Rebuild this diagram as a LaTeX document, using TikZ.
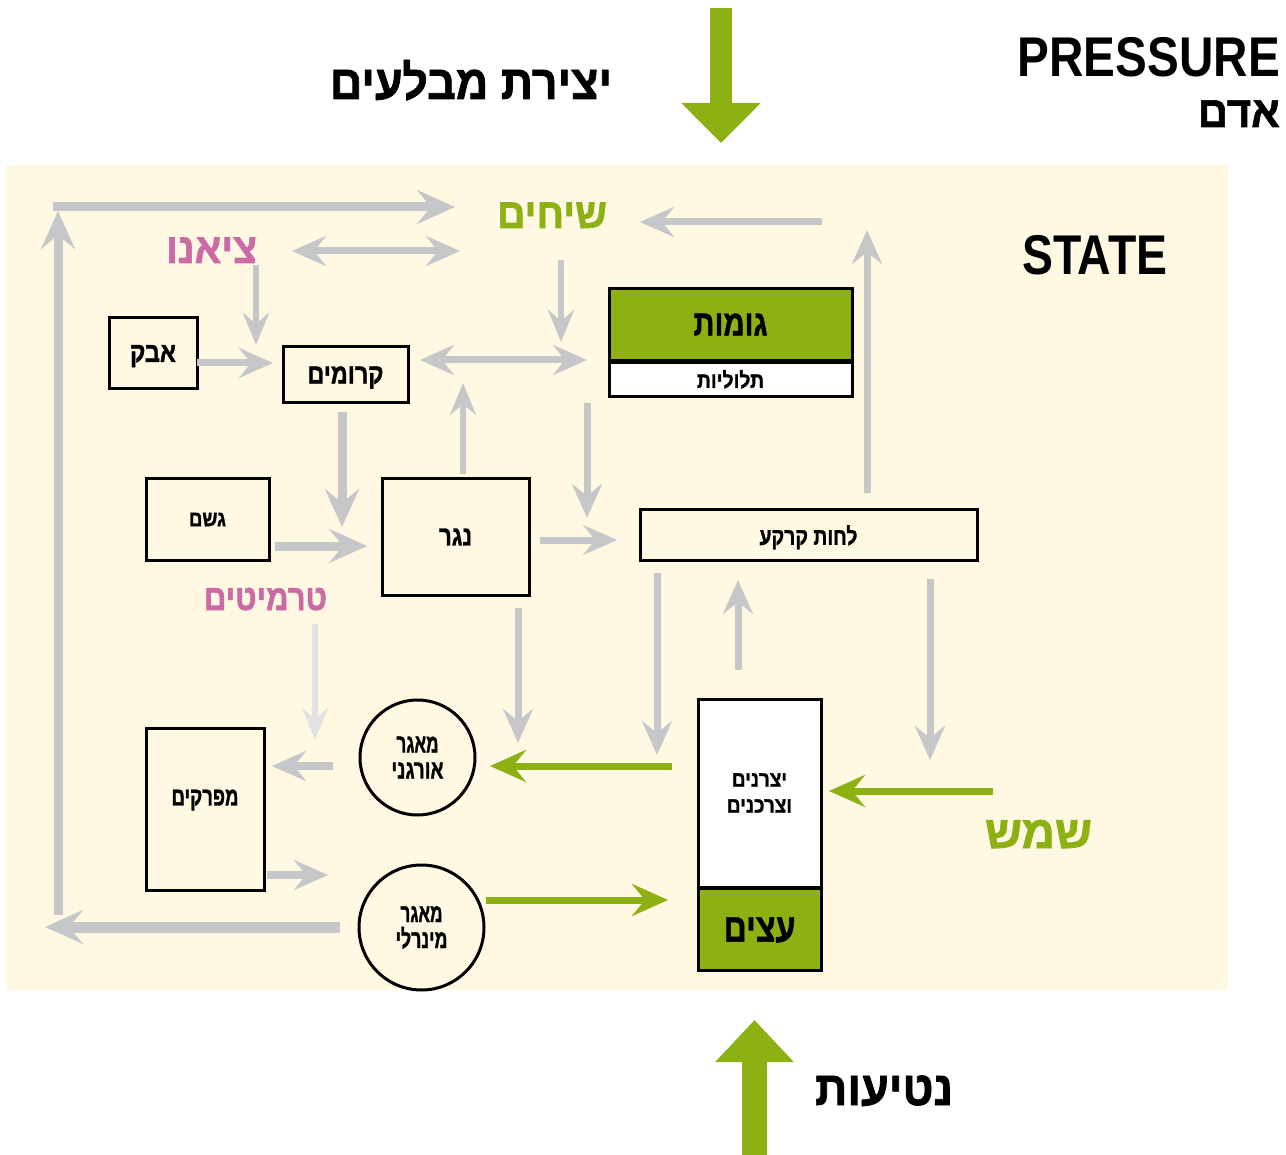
\documentclass[tikz,border=0pt]{standalone}
\usepackage{fontspec}
\usepackage{graphicx}
\setmainfont{Liberation Sans}
\newfontfamily\hebfont[Script=Hebrew,BoldFeatures={FakeBold=1.5}]{Liberation Sans}
\TeXXeTstate=1
\usetikzlibrary{arrows.meta}

\definecolor{cream}{HTML}{FFF8E2}
\definecolor{leafgreen}{HTML}{8DB012}
\definecolor{flowgray}{HTML}{C6C7C9}
\definecolor{palegray}{HTML}{E2E3E2}
\definecolor{bloompink}{HTML}{CC6AA5}

% Hebrew bold text: size, target width, text
\newcommand\heb[3]{{\hebfont\bfseries\fontsize{#1}{#1}\selectfont\resizebox{#2}{\height}{\beginR #3\endR}}}
% Latin bold text: size, target width, text
\newcommand\lat[3]{{\bfseries\fontsize{#1}{#1}\selectfont\resizebox{#2}{\height}{#3}}}

\begin{document}
\begin{tikzpicture}[x=1pt,y=-1pt,
  box/.style={draw=black,line width=3pt,fill=cream,inner sep=0pt,text depth=0pt},
  pool/.style={circle,draw=black,line width=3pt,fill=cream,inner sep=0pt,align=center,font=\fontsize{26}{26}\selectfont},
  txt/.style={inner sep=0pt},
  flow/.style={draw=flowgray,line width=7pt,-{Stealth[length=34pt,width=30pt,inset=12pt]}},
  flowthick/.style={draw=flowgray,line width=9pt,-{Stealth[length=38pt,width=34pt,inset=14pt]}},
  flowthin/.style={draw=flowgray,line width=6pt,-{Stealth[length=32pt,width=26pt,inset=11pt]}},
  biflow/.style={draw=flowgray,line width=7pt,{Stealth[length=34pt,width=30pt,inset=12pt]}-{Stealth[length=34pt,width=30pt,inset=12pt]}},
  greenflow/.style={draw=leafgreen,line width=7pt,-{Stealth[length=36pt,width=32pt,inset=13pt]}}
]
\path[use as bounding box,fill=white] (0,0) rectangle (1286,1155);
\fill[cream] (6,165) rectangle (1228,990);

% ---- boxes and pools ----
\node[box,minimum width=88pt,minimum height=71pt] (dust) at (153,353.5) {\heb{28}{46pt}{אבק}};
\node[box,minimum width=125pt,minimum height=56pt] (crust) at (345.5,375) {\heb{28}{76pt}{קרומים}};
\node[box,fill=leafgreen,minimum width=243pt,minimum height=72pt] (pits) at (730.5,324.5) {\heb{36}{74pt}{גומות}};
\node[box,fill=white,minimum width=243pt,minimum height=36pt] (mounds) at (730.5,379) {\heb{22}{67pt}{תלוליות}};
\draw[line width=5pt] (pits.south west) -- (pits.south east);
\node[box,minimum width=123pt,minimum height=81pt] (rain) at (207.5,519.5) {\heb{22}{37pt}{גשם}};
\node[box,minimum width=147pt,minimum height=116pt] (runoff) at (455.5,537) {\heb{28}{33pt}{נגר}};
\node[box,minimum width=337pt,minimum height=50pt] (moist) at (808.5,535) {\heb{24}{98pt}{לחות קרקע}};
\node[box,minimum width=118pt,minimum height=162pt] (decomp) at (205,809) {};
\node[txt] (decomplabel) at (205,800) {\heb{26}{67pt}{מפרקים}};
\node[pool,minimum size=115pt] (orgpool) at (417.5,757.5) {\heb{26}{42pt}{מאגר}\\\heb{26}{52pt}{אורגני}};
\node[pool,minimum size=125pt] (minpool) at (421.5,927.5) {\heb{26}{42pt}{מאגר}\\\heb{26}{52pt}{מינרלי}};
\node[box,fill=white,minimum width=123pt,minimum height=188pt,align=center,font=\fontsize{26}{26}\selectfont] (biota) at (759.5,793) {\heb{22}{55pt}{יצרנים}\\\heb{22}{65pt}{וצרכנים}};
\node[box,fill=leafgreen,minimum width=123pt,minimum height=82pt] (trees) at (759.5,929.5) {\heb{40}{72pt}{עצים}};

% ---- labels ----
\node[txt,anchor=base] (enclosures) at (471,99) {\heb{48}{282pt}{יצירת מבלעים}};
\node[txt,anchor=base east] (pressure) at (1280,77) {\lat{56}{262pt}{PRESSURE}};
\node[txt,anchor=base east] (human) at (1280,127) {\heb{44}{82pt}{אדם}};
\node[txt,anchor=base west] (state) at (1022,275) {\lat{56}{145pt}{STATE}};
\node[txt,anchor=base,text=leafgreen] (shrubs) at (552,228) {\heb{42}{110pt}{שיחים}};
\node[txt,anchor=base,text=bloompink] (cyano) at (211.5,263) {\heb{42}{91pt}{ציאנו}};
\node[txt,anchor=base,text=bloompink] (termites) at (265.5,610) {\heb{36}{123pt}{טרמיטים}};
\node[txt,anchor=base,text=leafgreen] (sun) at (1038.5,848) {\heb{46}{107pt}{שמש}};
\node[txt,anchor=base] (planting) at (884,1105) {\heb{48}{138pt}{נטיעות}};

% ---- connector ends ----
\coordinate (loopA) at (58,915);   \coordinate (loopB) at (58,211);
\coordinate (loopC) at (53,207);   \coordinate (loopD) at (455,207);
\coordinate (cyR)   at (292,251);  \coordinate (shL)   at (460,251);
\coordinate (shE)   at (822,222);  \coordinate (shW)   at (640,222);
\coordinate (cyD1)  at (256,265);  \coordinate (cyD2)  at (256,345);
\coordinate (shD1)  at (561,260);  \coordinate (shD2)  at (561,342);
\coordinate (duE)   at (197,363);  \coordinate (crW)   at (273,363);
\coordinate (crE)   at (420,360);  \coordinate (piW)   at (587,360);
\coordinate (ruU1)  at (463,474);  \coordinate (ruU2)  at (463,383);
\coordinate (piD1)  at (587,403);  \coordinate (piD2)  at (587,518);
\coordinate (crD1)  at (342,412);  \coordinate (crD2)  at (342,527);
\coordinate (raE)   at (275,546);  \coordinate (ruW)   at (367,546);
\coordinate (ruE)   at (540,540);  \coordinate (moW)   at (617,540);
\coordinate (moU1)  at (867,493);  \coordinate (moU2)  at (867,230);
\coordinate (moD1)  at (657,573);  \coordinate (moD2)  at (657,755);
\coordinate (biU1)  at (738,670);  \coordinate (biU2)  at (738,580);
\coordinate (moR1)  at (930,579);  \coordinate (moR2)  at (930,760);
\coordinate (ruD1)  at (518,608);  \coordinate (ruD2)  at (518,743);
\coordinate (teD1)  at (315,624);  \coordinate (teD2)  at (315,740);
\coordinate (orW)   at (333,766);  \coordinate (deE1)  at (272,766);
\coordinate (deE2)  at (267,875);  \coordinate (miW)   at (328,875);
\coordinate (miL1)  at (340,927);  \coordinate (miL2)  at (45,927);
\coordinate (gO1)   at (672,766);  \coordinate (gO2)   at (490,766);
\coordinate (gM1)   at (486,900);  \coordinate (gM2)   at (668,900);
\coordinate (gS1)   at (993,791);  \coordinate (gS2)   at (829,791);
\coordinate (topA)  at (721,8);    \coordinate (topB)  at (721,143);
\coordinate (botA)  at (754.5,1155); \coordinate (botB) at (754.5,1020);

% ---- gray flows ----
\draw[flowthick] (loopA) -- (loopB);
\draw[flowthick] (loopC) -- (loopD);
\draw[biflow] (cyR) -- (shL);
\draw[flow] (shE) -- (shW);
\draw[flowthin] (cyD1) -- (cyD2);
\draw[flowthin] (shD1) -- (shD2);
\draw[flow] (duE) -- (crW);
\draw[biflow] (crE) -- (piW);
\draw[flowthin] (ruU1) -- (ruU2);
\draw[flow] (piD1) -- (piD2);
\draw[flowthick] (crD1) -- (crD2);
\draw[flowthick] (raE) -- (ruW);
\draw[flow] (ruE) -- (moW);
\draw[flow] (moU1) -- (moU2);
\draw[flow] (moD1) -- (moD2);
\draw[flow] (biU1) -- (biU2);
\draw[flow] (moR1) -- (moR2);
\draw[flow] (ruD1) -- (ruD2);
\draw[flowthin,draw=palegray] (teD1) -- (teD2);
\draw[flow,line width=8pt] (orW) -- (deE1);
\draw[flow,line width=8pt] (deE2) -- (miW);
\draw[flowthick,line width=11pt] (miL1) -- (miL2);

% ---- green flows ----
\draw[greenflow] (gO1) -- (gO2);
\draw[greenflow] (gM1) -- (gM2);
\draw[greenflow] (gS1) -- (gS2);
\draw[draw=leafgreen,line width=22pt,-{Triangle[length=40pt,width=77pt]}] (topA) -- (topB);
\draw[draw=leafgreen,line width=25pt,-{Triangle[length=42pt,width=76pt]}] (botA) -- (botB);
\end{tikzpicture}
\end{document}
